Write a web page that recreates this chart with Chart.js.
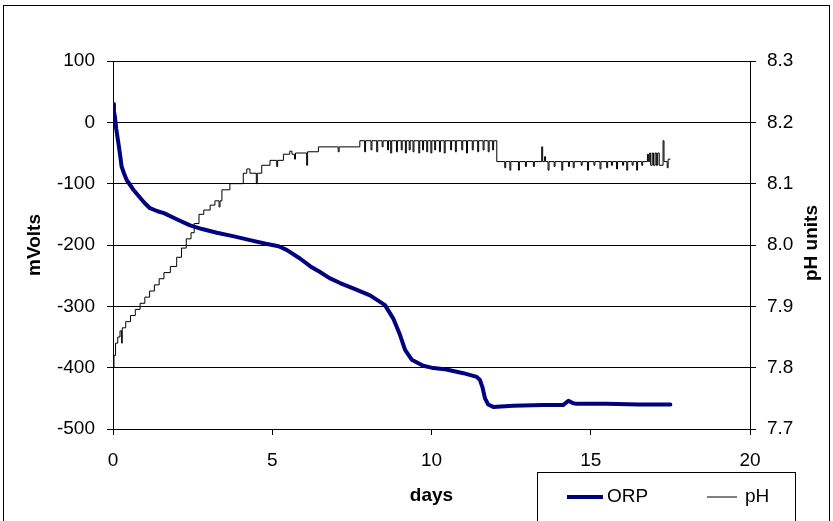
<!DOCTYPE html>
<html>
<head>
<meta charset="utf-8">
<script src="https://cdn.jsdelivr.net/npm/chart.js@4"></script>
<style>
  body { margin: 0; background: #fff; }
  #wrap { width: 833px; height: 521px; }
</style>
</head>
<body>
<div id="wrap"><canvas id="orpChart" width="833" height="521"></canvas></div>
<script>
// ORP readings (mV) against time (days)
const orpDays = [0, 0.03, 0.06, 0.1, 0.17, 0.22, 0.27, 0.35, 0.43, 0.55, 0.64, 0.85, 1.0, 1.16, 1.4, 1.6, 2.0, 2.42, 2.8, 3.26,
  3.8, 4.3, 4.8, 5.2, 5.45, 5.87, 6.2, 6.5, 6.8, 7.13, 7.6, 8.07, 8.3, 8.54, 8.8, 9.0, 9.17, 9.38, 9.74, 10.0,
  10.47, 11.0, 11.42, 11.52, 11.6, 11.68, 11.78, 11.94, 12.56, 13.5, 14.13, 14.3, 14.45, 14.56, 15.5, 16.5, 17.5];
const orpValues = [30, 18, 9, -10, -34, -52, -72, -84, -94, -103, -110, -123, -132, -140, -145, -148, -158, -168, -174, -180,
  -186, -192, -198, -202, -208, -222, -235, -244, -254, -262, -272, -282, -290, -298, -320, -345, -371, -387, -397, -400,
  -403, -409, -415, -420, -432, -450, -460, -464, -462, -461, -461, -454, -458, -459, -459, -460, -460];

// pH readings (step changes) against time (days)
const phDays = [0, 0.01, 0.03, 0.08, 0.15, 0.22, 0.27, 0.29, 0.4, 0.55, 0.7, 0.85, 1.0, 1.15, 1.3, 1.45, 1.6, 1.8,
  2.0, 2.15, 2.3, 2.45, 2.55, 2.7, 2.85, 3.05, 3.2, 3.33, 3.36, 3.42, 3.67, 4.09, 4.2, 4.3, 4.5, 4.53, 4.67, 4.93,
  5.14, 5.17, 5.35, 5.55, 5.62, 5.7, 5.73, 6.08, 6.11, 6.45, 7.07, 7.1, 7.75,
  7.9, 7.93, 8.1, 8.13, 8.28, 8.31, 8.45, 8.48, 8.62, 8.65, 8.72, 8.75, 8.9, 8.93, 9.05, 9.08, 9.18, 9.21,
  9.3, 9.33, 9.42, 9.45, 9.6, 9.63, 9.72, 9.75, 9.85, 9.88, 9.98, 10.01, 10.1, 10.13, 10.25, 10.28, 10.4, 10.43,
  10.6, 10.63, 10.75, 10.78, 10.95, 10.98, 11.1, 11.13, 11.28, 11.31, 11.45, 11.48, 11.62, 11.65, 11.78, 11.81,
  11.92, 11.95, 12.05,
  12.3, 12.33, 12.46, 12.49, 12.73, 12.76, 12.95, 12.98, 13.2, 13.23, 13.46, 13.49, 13.55, 13.58, 13.66, 13.69,
  13.85, 13.88, 14.09, 14.12, 14.3, 14.33, 14.45, 14.48, 14.7, 14.73, 14.9, 14.93, 15.1, 15.13, 15.29, 15.32,
  15.5, 15.53, 15.65, 15.68, 15.81, 15.84, 16.0, 16.03, 16.13, 16.16, 16.3, 16.33, 16.44, 16.47, 16.6, 16.63,
  16.78, 16.81, 16.85, 16.88, 16.93, 16.97, 17.02, 17.06, 17.1, 17.15, 17.27, 17.3, 17.4, 17.43, 17.5];
const phValues = [7.75, 7.80, 7.82, 7.84, 7.85, 7.86, 7.84, 7.865, 7.875, 7.885, 7.895, 7.905, 7.915, 7.925, 7.935, 7.945, 7.955, 7.965,
  7.98, 7.995, 8.01, 8.02, 8.035, 8.05, 8.057, 8.065, 8.072, 8.062, 8.072, 8.09, 8.10, 8.117, 8.124, 8.117, 8.10, 8.117, 8.13, 8.138,
  8.128, 8.138, 8.148, 8.153, 8.148, 8.14, 8.15, 8.13, 8.152, 8.16, 8.152, 8.16, 8.17,
  8.152, 8.17, 8.155, 8.17, 8.152, 8.17, 8.16, 8.17, 8.155, 8.17, 8.15, 8.17, 8.152, 8.17, 8.155, 8.17, 8.15, 8.17,
  8.155, 8.17, 8.152, 8.17, 8.15, 8.17, 8.155, 8.17, 8.152, 8.17, 8.15, 8.17, 8.155, 8.17, 8.152, 8.17, 8.15, 8.17,
  8.155, 8.17, 8.152, 8.17, 8.155, 8.17, 8.15, 8.17, 8.155, 8.17, 8.152, 8.17, 8.155, 8.17, 8.152, 8.17,
  8.155, 8.17, 8.136,
  8.126, 8.136, 8.122, 8.136, 8.122, 8.136, 8.128, 8.136, 8.128, 8.136, 8.16, 8.136, 8.144, 8.136, 8.122, 8.136,
  8.128, 8.136, 8.122, 8.136, 8.128, 8.136, 8.126, 8.136, 8.13, 8.136, 8.122, 8.136, 8.13, 8.136, 8.124, 8.136,
  8.126, 8.136, 8.13, 8.136, 8.124, 8.136, 8.13, 8.136, 8.122, 8.136, 8.13, 8.136, 8.122, 8.136, 8.13, 8.136,
  8.148, 8.136, 8.15, 8.13, 8.15, 8.13, 8.15, 8.13, 8.15, 8.13, 8.17, 8.136, 8.126, 8.14, 8.14];

// axis ranges / ticks
const dayTicks = [0, 5, 10, 15, 20];
const mvTicks = [-500, -400, -300, -200, -100, 0, 100];
const phTicks = [7.7, 7.8, 7.9, 8.0, 8.1, 8.2, 8.3];

const FONT = "'Liberation Sans', Arial, sans-serif";

// frame, right axis title and legend box drawn by hand (Excel style)
const excelDecor = {
  id: "excelDecor",
  afterDraw(chart) {
    const ctx = chart.ctx;
    ctx.save();
    // outer border
    ctx.strokeStyle = "#000";
    ctx.lineWidth = 1;
    ctx.strokeRect(3.5, 5.5, 826, 530);

    // right axis title, reads bottom to top
    ctx.fillStyle = "#000";
    ctx.font = "bold 19px " + FONT;
    ctx.textAlign = "center";
    ctx.textBaseline = "middle";
    ctx.translate(812, 243);
    ctx.rotate(-Math.PI / 2);
    ctx.fillText("pH units", 0, 0);
    ctx.restore();

    // legend box
    ctx.save();
    ctx.strokeStyle = "#000";
    ctx.lineWidth = 1;
    ctx.strokeRect(537.5, 472.5, 258, 60);
    ctx.font = "19px " + FONT;
    ctx.textBaseline = "middle";
    ctx.fillStyle = "#000";
    const ly = 497;
    const items = [
      { ds: chart.data.datasets[0], x0: 567, x1: 603, tx: 607 },
      { ds: chart.data.datasets[1], x0: 707, x1: 737, tx: 745 }
    ];
    items.forEach(it => {
      ctx.strokeStyle = it.ds.borderColor;
      ctx.lineWidth = it.ds.borderWidth;
      ctx.beginPath();
      ctx.moveTo(it.x0, ly);
      ctx.lineTo(it.x1, ly);
      ctx.stroke();
      ctx.fillText(it.ds.label, it.tx, ly);
    });
    ctx.restore();
  }
};

const ctx = document.getElementById("orpChart").getContext("2d");
const orpChart = new Chart(ctx, {
  type: "line",
  data: {
    datasets: [
      {
        label: "ORP",
        data: orpDays.map((d, i) => ({ x: d, y: orpValues[i] })),
        borderColor: "#000080",
        borderWidth: 4,
        borderJoinStyle: "round",
        borderCapStyle: "round",
        pointRadius: 0,
        yAxisID: "y"
      },
      {
        label: "pH",
        data: phDays.map((d, i) => ({ x: d, y: phValues[i] })),
        borderColor: "#000000",
        borderWidth: 1,
        stepped: true,
        pointRadius: 0,
        yAxisID: "y1"
      }
    ]
  },
  options: {
    responsive: false,
    animation: false,
    layout: { padding: { top: 61, left: 0, right: 0, bottom: 0 } },
    plugins: {
      legend: { display: false },
      tooltip: { enabled: false }
    },
    scales: {
      x: {
        type: "linear",
        min: 0,
        max: 20,
        afterFit: s => { s.height = 92; },
        afterBuildTicks: s => { s.ticks = dayTicks.map(v => ({ value: v })); },
        ticks: { color: "#000", font: { family: FONT, size: 19 }, padding: 14, maxRotation: 0 },
        grid: { drawOnChartArea: false, color: "#000", tickLength: 6 },
        border: { color: "#000", width: 1 },
        title: { display: true, text: "days", color: "#000", font: { family: FONT, size: 19, weight: "bold" }, padding: { top: 0, bottom: 14 } }
      },
      y: {
        position: "left",
        min: -500,
        max: 100,
        afterFit: s => { s.width = 113; },
        afterBuildTicks: s => { s.ticks = mvTicks.map(v => ({ value: v })); },
        ticks: { color: "#000", font: { family: FONT, size: 19 }, padding: 12 },
        grid: { color: "#000", tickLength: 6 },
        border: { color: "#000", width: 1 },
        title: { display: true, text: "mVolts", color: "#000", font: { family: FONT, size: 19, weight: "bold" }, padding: { top: 23, bottom: 0 } }
      },
      y1: {
        position: "right",
        min: 7.7,
        max: 8.3,
        afterFit: s => { s.width = 83; },
        afterBuildTicks: s => { s.ticks = phTicks.map(v => ({ value: v })); },
        ticks: { color: "#000", font: { family: FONT, size: 19 }, padding: 11, callback: v => Number(v).toFixed(1) },
        grid: { drawOnChartArea: false, color: "#000", tickLength: 6 },
        border: { color: "#000", width: 1 }
      }
    }
  },
  plugins: [excelDecor]
});
</script>
</body>
</html>
